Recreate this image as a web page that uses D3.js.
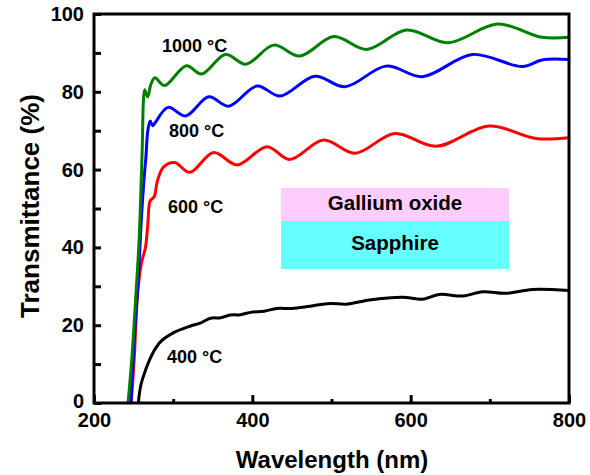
<!DOCTYPE html>
<html>
<head>
<meta charset="utf-8">
<script src="https://cdn.jsdelivr.net/npm/d3@7"></script>
<style>
  body { margin: 0; background: #fff; }
  text { font-family: "Liberation Sans", Arial, sans-serif; font-weight: bold; }
</style>
</head>
<body>
<div id="chart"></div>
<script>
// transmittance spectra (wavelength nm, T %)
const wl1000 = [243, 248, 253, 257, 259, 261, 262.5, 264, 266, 268, 272, 277, 289, 316.6, 336, 366, 392, 427, 460, 503, 544, 595, 647, 710, 766, 800];
const t1000  = [0, 12, 28, 42, 53, 66, 78, 80.5, 79.5, 78.7, 82, 83.6, 81.6, 86.7, 84.6, 89.6, 87.1, 92, 89.2, 94.2, 90.9, 95.9, 92.6, 97.4, 94, 94];

const wl800 = [246.5, 252, 256, 260, 263, 265.5, 268, 271, 274, 277, 293.5, 315.7, 345, 370, 406, 435, 479, 517, 569, 615, 678, 741, 766, 800];
const t800  = [0, 20, 32, 48, 57, 63, 70, 72.5, 71.3, 72, 76, 73.8, 78.7, 76.3, 81.5, 78.9, 84, 81.3, 86.6, 83.9, 89.6, 86.5, 88.2, 88.3];

const wl600 = [247, 251, 255, 260, 265, 268, 271, 276, 280, 288, 302, 321, 351, 381, 418.5, 447, 490, 529.6, 580, 632, 699, 758, 800];
const t600  = [0, 12, 28, 36, 40, 46, 52, 53, 57, 60.7, 61.8, 59.3, 64.4, 61.2, 65.9, 62.6, 67.6, 64.2, 69.3, 66, 71.2, 68, 68.2];

const wl400 = [256, 261, 282, 299, 322, 335, 347, 360, 372, 385, 397.5, 415, 431, 450, 473, 498, 519, 548, 590, 615, 636, 666, 691, 720, 754, 800];
const t400  = [0, 6, 15.3, 17.9, 19.8, 20.6, 21.8, 21.9, 22.6, 22.7, 23.3, 23.6, 24.3, 24.3, 24.9, 25.6, 25.4, 26.5, 27.2, 26.7, 27.9, 27.5, 28.6, 28.2, 29.2, 28.9];

const seriesNames  = ["1000 \u00B0C", "800 \u00B0C", "600 \u00B0C", "400 \u00B0C"];
const seriesColors = ["#008000", "#0000ff", "#ff0000", "#000000"];

const xMajor = [200, 400, 600, 800];
const xMinor = [300, 500, 700];
const yMajor = [0, 20, 40, 60, 80, 100];
const yMinor = [10, 30, 50, 70, 90];

const layers = ["Gallium oxide", "Sapphire"];

const W = 590, H = 475;
const svg = d3.select("#chart").append("svg").attr("width", W).attr("height", H);

const x = d3.scaleLinear().domain([200, 800]).range([94, 569]);
const y = d3.scaleLinear().domain([0, 100]).range([403, 14]);

// spectra (black first so the coloured ones sit on top at the edge)
const series = [
  { wl: wl400, t: t400, color: seriesColors[3] },
  { wl: wl600, t: t600, color: seriesColors[2] },
  { wl: wl800, t: t800, color: seriesColors[1] },
  { wl: wl1000, t: t1000, color: seriesColors[0] }
];

const line = d3.line()
  .x(d => x(d[0]))
  .y(d => y(d[1]))
  .curve(d3.curveCatmullRom.alpha(0.5));

series.forEach(s => {
  svg.append("path")
    .datum(s.wl.map((w, i) => [w, s.t[i]]))
    .attr("fill", "none")
    .attr("stroke", s.color)
    .attr("stroke-width", 3)
    .attr("stroke-linejoin", "round")
    .attr("d", line);
});

// layer sketch
const boxX = 281, boxW = 228;
svg.append("rect").attr("x", boxX).attr("y", 188).attr("width", boxW).attr("height", 33).attr("fill", "#ffccff");
svg.append("rect").attr("x", boxX).attr("y", 221).attr("width", boxW).attr("height", 48).attr("fill", "#66ffff");
svg.append("text").attr("x", boxX + boxW / 2).attr("y", 210).attr("text-anchor", "middle")
  .style("font-size", "20.5px").text(layers[0]);
svg.append("text").attr("x", boxX + boxW / 2).attr("y", 250).attr("text-anchor", "middle")
  .style("font-size", "20.5px").text(layers[1]);

// series labels
const labelPos = [[162, 52], [169, 137], [168, 213], [167, 363]];
seriesNames.forEach((n, i) => {
  svg.append("text").attr("x", labelPos[i][0]).attr("y", labelPos[i][1])
    .style("font-size", "18px").text(n);
});

// axes
svg.append("g").attr("transform", "translate(0,403)")
  .call(d3.axisBottom(x).tickValues(xMajor).tickSize(-8).tickPadding(10).tickFormat(d3.format("d")));
svg.append("g").attr("transform", "translate(0,403)")
  .call(d3.axisBottom(x).tickValues(xMinor).tickSize(-4).tickFormat(""));
const gy = svg.append("g").attr("transform", "translate(94,0)")
  .call(d3.axisLeft(y).tickValues(yMajor).tickSize(-7).tickPadding(10).tickFormat(d3.format("d")));
svg.append("g").attr("transform", "translate(94,0)")
  .call(d3.axisLeft(y).tickValues(yMinor).tickSize(-7).tickFormat(""));

svg.selectAll(".domain").remove();
svg.selectAll(".tick line").attr("stroke", "#000").attr("stroke-width", 3);
svg.selectAll(".tick text").style("font-size", "20px").style("font-family", "'Liberation Sans', Arial, sans-serif")
  .style("font-weight", "bold").attr("fill", "#000");
// the "0" sits a touch higher so it clears the "200" below it
gy.selectAll(".tick text").filter(d => d === 0).attr("dy", "0.2em");

svg.append("rect")
  .attr("x", 94).attr("y", 14).attr("width", 569 - 94).attr("height", 403 - 14)
  .attr("fill", "none").attr("stroke", "#000").attr("stroke-width", 3);

// axis titles
svg.append("text").attr("x", 332).attr("y", 468).attr("text-anchor", "middle")
  .style("font-size", "24px").text("Wavelength (nm)");
svg.append("text").attr("transform", "translate(39,206) rotate(-90)").attr("text-anchor", "middle")
  .style("font-size", "26px").text("Transmittance (%)");
</script>
</body>
</html>
